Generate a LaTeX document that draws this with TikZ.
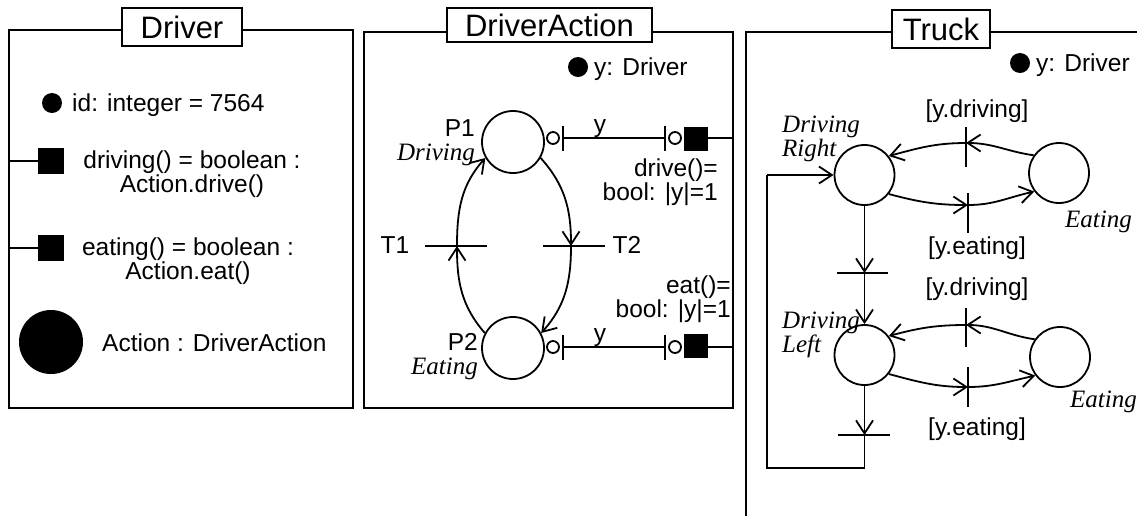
\documentclass[tikz,border=0pt]{standalone}
\usepackage{fontspec}
\setmainfont{Liberation Sans}
\newfontfamily\serfont{Liberation Serif}
\usetikzlibrary{arrows.meta}
\tikzset{
  ln/.style={line width=1.8pt},
  frame/.style={line width=2.2pt},
  titlebox/.style={draw, line width=2pt, fill=white, font=\fontsize{31}{31}\selectfont, inner sep=0pt},
  txt/.style={font=\fontsize{24.5}{24}\selectfont, inner sep=0pt},
  itxt/.style={font=\fontsize{25}{24}\selectfont\serfont\itshape, inner sep=0pt},
  place/.style={circle, draw, line width=1.8pt, minimum size=62pt, inner sep=0pt},
  dot/.style={circle, fill=black, minimum size=20pt, inner sep=0pt},
  sq/.style={rectangle, fill=black, minimum size=25pt, inner sep=0pt},
  port/.style={circle, draw, fill=white, line width=1.8pt, minimum size=12pt, inner sep=0pt},
  arr/.style={line width=1.8pt, -{Straight Barb[length=13pt,width=17pt,line width=1.8pt]}},
}
\begin{document}
\begin{tikzpicture}[x=1pt,y=1pt]
\useasboundingbox (0,0) rectangle (1137,-515);

% ---------------- Driver ----------------
\draw[frame] (9,-30) rectangle (353,-408);
\node[titlebox, minimum width=120pt, minimum height=38pt] (tDriver) at (182,-27) {Driver};
\node[dot] (iddot) at (52,-103) {};
\node[txt, anchor=west] (idtxt) at (72,-105) {id: integer = 7564};
\node[sq, minimum size=26pt] (sqdrv) at (51,-161) {};
\coordinate (edrv) at (9,-161);
\draw[ln] (edrv) -- (sqdrv);
\node[txt, align=center] (drvtxt) at (192,-174) {driving() = boolean :\\Action.drive()};
\node[sq, minimum size=26pt] (sqeat) at (51,-248) {};
\coordinate (eeat) at (9,-248);
\draw[ln] (eeat) -- (sqeat);
\node[txt, align=center] (eattxt) at (188,-261) {eating() = boolean :\\Action.eat()};
\node[circle, fill=black, minimum size=64pt, inner sep=0pt] (actdot) at (51,-342) {};
\node[txt, anchor=west] (acttxt) at (102,-343) {Action : DriverAction};

% ---------------- DriverAction ----------------
\draw[frame] (364,-32) rectangle (733,-408);
\node[titlebox, minimum width=205pt, minimum height=34pt] (tDA) at (549.5,-25) {DriverAction};
\node[dot] (ydotA) at (578,-67) {};
\node[txt, anchor=west] (ytxtA) at (594,-69.5) {y: Driver};

\node[place] (P1) at (513,-142) {};
\node[place] (P2) at (513,-348) {};
\node[txt, align=right, anchor=east] (P1lab) at (475,-142.6) {P1\\{\fontsize{25}{24}\selectfont\serfont\itshape Driving}};
\node[txt, align=right, anchor=east] (P2lab) at (478,-356.6) {P2\\{\fontsize{25}{24}\selectfont\serfont\itshape Eating}};

\coordinate (T1) at (457,-246);
\coordinate (T2) at (571,-246);
\draw[ln] (425,-246) -- (487,-246);
\draw[ln] (543,-246) -- (605,-246);
\node[txt] (T1lab) at (395,-245) {T1};
\node[txt] (T2lab) at (627,-245) {T2};

\draw[arr] (P2.152) to[out=131,in=-90] (T1);
\draw[arr] (T1) to[out=90,in=-132] (P1.210);
\draw[arr] (P1.-30) to[out=-48,in=90] (T2);
\draw[arr] (T2) to[out=-90,in=48] (P2.28);

% ports P1
\node[port] (pa1) at (553,-138) {};
\coordinate (ba1) at (563,-138);
\coordinate (bb1) at (665,-138);
\node[port] (pb1) at (675,-138) {};
\node[sq, minimum size=24pt] (sq1) at (695.5,-139) {};
\coordinate (ea1) at (733,-138);
\draw[ln] (563,-126) -- (563,-151);
\draw[ln] (665,-126) -- (665,-151);
\draw[ln] (ba1) -- (bb1);
\draw[ln] (sq1.east |- ea1) -- (ea1);
\node[txt] (y1) at (600,-129) {y};
\node[txt, align=right, anchor=east] (drvA) at (718,-182) {drive()=\\bool: |y|=1};

% ports P2
\node[port] (pa2) at (553,-347) {};
\coordinate (ba2) at (563,-347);
\coordinate (bb2) at (665,-347);
\node[port] (pb2) at (675,-347) {};
\node[sq, minimum size=24pt] (sq2) at (695.5,-345.5) {};
\coordinate (ea2) at (733,-347);
\draw[ln] (563,-335) -- (563,-360);
\draw[ln] (665,-335) -- (665,-360);
\draw[ln] (ba2) -- (bb2);
\draw[ln] (sq2.east |- ea2) -- (ea2);
\node[txt] (y2) at (600,-338) {y};
\node[txt, align=right, anchor=east] (eatA) at (731,-299) {eat()=\\bool: |y|=1};

% ---------------- Truck ----------------
\draw[frame] (746,-520) -- (746,-32) -- (1140,-32);
\node[titlebox, minimum width=98pt, minimum height=38pt] (tTruck) at (941,-29) {Truck};
\node[dot] (ydotT) at (1020,-63) {};
\node[txt, anchor=west] (ytxtT) at (1036,-65.5) {y: Driver};

\node[place, minimum size=60pt] (DR) at (864.5,-175) {};
\node[place, minimum size=60pt] (ER) at (1059,-173) {};
\node[place, minimum size=60pt] (DL) at (864.5,-355) {};
\node[place, minimum size=60pt] (EL) at (1060,-357) {};

\node[itxt, align=left, anchor=west] (DRlab) at (782,-139) {Driving\\Right};
\node[itxt, align=left, anchor=west] (DLlab) at (782,-335) {Driving\\Left};
\node[itxt, anchor=west] (ERlab) at (1065,-222) {Eating};
\node[itxt, anchor=west] (ELlab) at (1070,-402) {Eating};

% upper pair
\coordinate (td1) at (966,-143);
\coordinate (te1) at (968,-205);
\draw[ln] (966,-127) -- (966,-167);
\draw[ln] (968,-193) -- (968,-233);
\node[txt] (gd1) at (977,-111) {[y.driving]};
\node[txt] (ge1) at (977,-248) {[y.eating]};
\draw[arr] (ER.145) to[out=172,in=0] (td1);
\draw[arr] (td1) to[out=180,in=15] (DR.38);
\draw[arr] (DR.-38) to[out=-15,in=180] (te1);
\draw[arr] (te1) to[out=0,in=-168] (ER.-143);

% lower pair
\coordinate (td2) at (966,-325);
\coordinate (te2) at (968,-387);
\draw[ln] (966,-308) -- (966,-347);
\draw[ln] (968,-367) -- (968,-407);
\node[txt] (gd2) at (977,-289) {[y.driving]};
\node[txt] (ge2) at (977,-429) {[y.eating]};
\draw[arr] (EL.145) to[out=172,in=0] (td2);
\draw[arr] (td2) to[out=180,in=15] (DL.38);
\draw[arr] (DL.-38) to[out=-15,in=180] (te2);
\draw[arr] (te2) to[out=0,in=-168] (EL.-143);

% vertical transitions
\coordinate (tb1) at (864.5,-273);
\coordinate (tb2) at (864.5,-435);
\draw[ln] (837,-273) -- (888,-273);
\draw[ln] (838,-435) -- (890,-435);
\draw[arr] (DR.south) -- (tb1);
\draw[arr] (tb1) -- (DL.north);
\draw[arr] (DL.south) -- (tb2);
\coordinate (lp1) at (864.5,-468);
\coordinate (lp2) at (767,-468);
\coordinate (lp3) at (767,-175);
\draw[ln] (tb2) -- (lp1) -- (lp2) -- (lp3);
\draw[arr] (lp3) -- (DR.west);
\end{tikzpicture}
\end{document}
